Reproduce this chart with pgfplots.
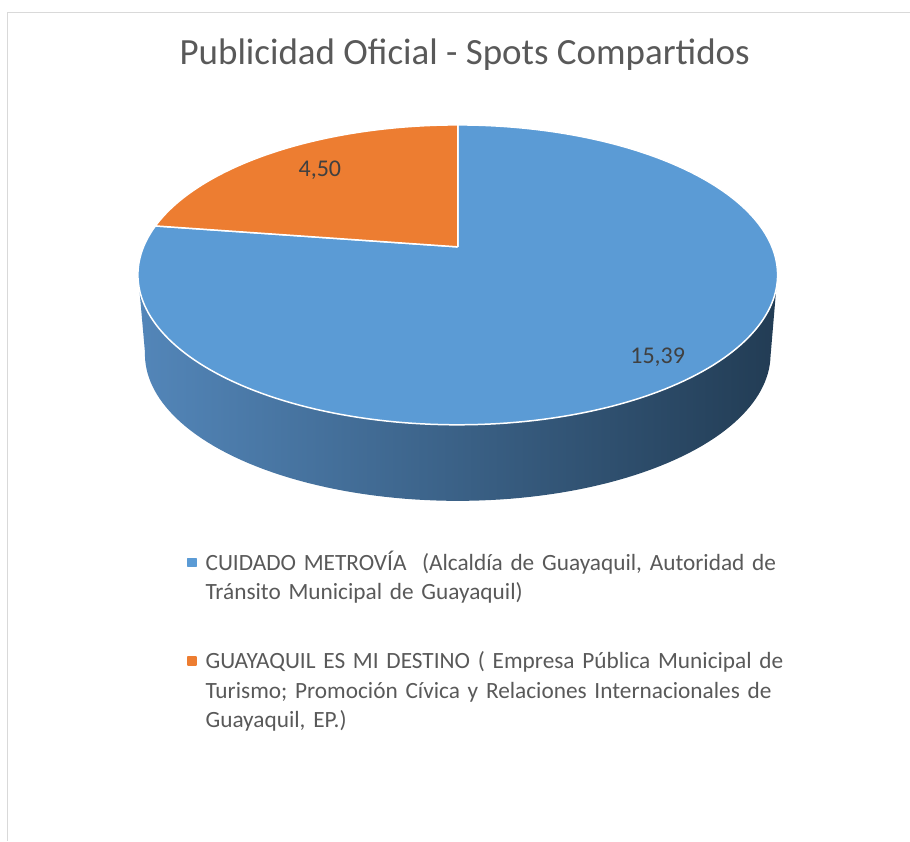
\documentclass[border=0pt]{standalone}
\usepackage{pgfplots}
\pgfplotsset{compat=1.18}
\usepackage{pgfplotstable}
\usepackage{fontspec}
\setmainfont{Carlito}
\definecolor{pieblue}{HTML}{5B9BD5}
\definecolor{pieorange}{HTML}{ED7D31}
\definecolor{sideL}{HTML}{5386B9}
\definecolor{sideM}{HTML}{345C83}
\definecolor{sideR}{HTML}{223C54}
\definecolor{txt}{HTML}{595959}
\definecolor{lbl}{HTML}{404040}
\definecolor{frame}{HTML}{D9D9D9}

\pgfplotstableread{
name value
metrovia 15.39
destino 4.50
}\piedata
\pgfplotstablegetelem{0}{value}\of\piedata \let\va\pgfplotsretval
\pgfplotstablegetelem{1}{value}\of\piedata \let\vb\pgfplotsretval
\pgfmathsetmacro\split{90+360*\vb/(\va+\vb)}

\begin{document}
\begin{tikzpicture}
\begin{axis}[
  width=910pt, height=841pt, scale only axis,
  xmin=0, xmax=910, ymin=0, ymax=841, y dir=reverse,
  hide axis, clip=false,
  declare function={
    pu(\a)=314.4*cos(\a)/(1+0.1867*sin(\a));
    pv(\a)=144.8*sin(\a)/(1+0.1867*sin(\a));
  },
  legend style={at={(axis cs:187,551)}, anchor=north west, draw=none, fill=none,
    inner sep=0pt, row sep=40pt, column sep=9pt,
    cells={anchor=base west},
    nodes={text width=600pt, align=left, inner sep=0pt, text=txt,
      font=\fontsize{23.3}{29.5}\selectfont}},
]
\path (rel axis cs:0,0) rectangle (rel axis cs:1,1);
% frame
\draw[frame, line width=1pt] (axis cs:7.5,841) -- (axis cs:7.5,12.5) -- (axis cs:910,12.5);
% side of the pie
\addplot[forget plot, draw=none, left color=sideL, middle color=sideM, right color=sideR,
  domain=0:2, samples=201, variable=\t]
  ({458 + ifthenelse(\t<=1, pu(190+160*\t), 0.978*pu(350-160*(\t-1)))},
   {ifthenelse(\t<=1, 247 - pv(190+160*\t), 327 - 0.978*pv(350-160*(\t-1)))});
% blue slice
\addplot[fill=pieblue, draw=white, line width=1.5pt, line join=round,
  domain=-0.005:1.005, samples=203, variable=\t,
  legend image code/.code={\fill[pieblue] (0pt,4pt) rectangle (8pt,12pt);}]
  ({458 + ifthenelse(\t>=-0.0001 && \t<=1.0001, pu(\split+(450-\split)*\t), 0)},
   {247 - ifthenelse(\t>=-0.0001 && \t<=1.0001, pv(\split+(450-\split)*\t), 0)});
\addlegendentry{CUIDADO METROVÍA\ \ (Alcaldía de Guayaquil, Autoridad de\\Tránsito Municipal de Guayaquil)}
% orange slice
\addplot[fill=pieorange, draw=white, line width=1.5pt, line join=round,
  domain=-0.01:1.01, samples=103, variable=\t,
  legend image code/.code={\fill[pieorange] (0pt,4pt) rectangle (8pt,12pt);}]
  ({458 + ifthenelse(\t>=-0.0001 && \t<=1.0001, pu(90+(\split-90)*\t), 0)},
   {247 - ifthenelse(\t>=-0.0001 && \t<=1.0001, pv(90+(\split-90)*\t), 0)});
\addlegendentry{\rule{0pt}{57pt}GUAYAQUIL ES MI DESTINO ( Empresa Pública Municipal de\\Turismo; Promoción Cívica y Relaciones Internacionales de\\Guayaquil, EP.)}
% data labels
\node[text=lbl, font=\fontsize{24}{29}\selectfont] at (axis cs:320,170) {4,50};
\node[text=lbl, font=\fontsize{24}{29}\selectfont] at (axis cs:658,357) {15,39};
% title
\node[text=txt, font=\fontsize{37}{44}\selectfont, anchor=base] at (axis cs:465,65) {Publicidad Oficial - Spots Compartidos};
\end{axis}
\end{tikzpicture}
\end{document}
